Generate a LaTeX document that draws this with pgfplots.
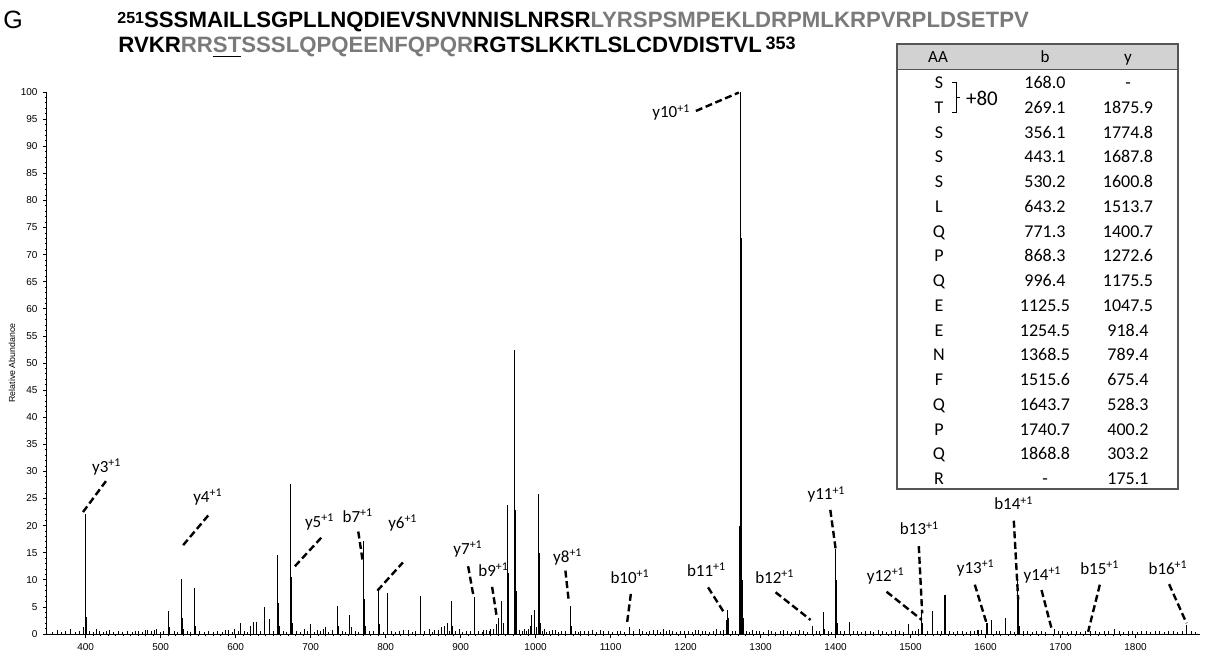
\documentclass[border=0pt]{standalone}
\usepackage{pgfplots}
\pgfplotsset{compat=1.18}
\usepackage{fontspec}
\setmainfont{Liberation Sans}
\newfontfamily\calfont{Carlito}
\definecolor{seqgray}{HTML}{7A7A7A}
\definecolor{hdrgray}{HTML}{D2D2D2}
\definecolor{boxgray}{HTML}{555555}
\tikzset{
  lbl/.style={font=\calfont\fontsize{8.5}{10}\selectfont, inner sep=0pt},
  dl/.style={line width=1.2pt, dash pattern=on 3.5pt off 1.8pt},
}
\begin{document}
\begin{tikzpicture}
\path[use as bounding box] (0pt,0pt) rectangle (603pt,327.5pt);
\begin{axis}[
  at={(23.5pt,10.5pt)}, anchor=south west,
  scale only axis, width=576.5pt, height=271pt,
  xmin=348.4, xmax=1886, ymin=0, ymax=100,
  axis lines=left, axis line style={-, line width=0.5pt},
  xtick={400,500,...,1800}, minor x tick num=9,
  ytick={0,5,...,100}, minor y tick num=4,
  tick align=outside,
  major tick length=2.2pt, minor tick length=1.2pt,
  every tick/.style={black, line width=0.4pt},
  /pgf/number format/assume math mode=true,
  /pgf/number format/1000 sep={},
  tick label style={font=\fontsize{5}{6}\selectfont},
  xticklabel style={yshift=1pt},
  yticklabel style={xshift=1pt},
  ylabel={Relative Abundance},
  ylabel style={font=\fontsize{4.4}{5}\selectfont, yshift=-4pt},
  clip=false,
]
% baseline noise
\addplot[ycomb, black, line width=0.4pt, no marks] coordinates {
(355,0.4)(362,0.7)(368,0.3)(373,0.5)(380,0.9)(386,0.4)(391,0.6)(405,0.5)(410,0.3)(418,0.6)
(423,0.4)(432,0.7)(437,0.3)(443,0.5)(449,0.4)(456,0.6)(462,0.3)(466,0.5)(476,0.4)(480,0.7)
(488,0.5)(500,0.4)(504,0.6)(518,0.5)(522,0.3)(536,0.6)(540,0.4)(552,0.5)(558,0.3)(563,0.6)
(570,0.4)(576,0.5)(582,0.3)(586,0.7)(595,0.4)(603,0.5)(612,0.6)(616,0.3)(633,0.5)(650,0.6)
(664,0.5)(668,0.4)(681,0.6)(686,0.4)(696,0.5)(705,0.4)(713,0.6)(724,0.4)(729,0.7)(742,0.5)
(746,0.4)(760,0.6)(764,0.4)(779,0.5)(784,0.6)(797,0.4)(808,0.6)(813,0.4)(818,0.5)(824,0.7)
(836,0.4)(840,0.6)(852,0.5)(862,0.4)(870,0.7)(885,0.6)(893,0.5)(903,0.4)(908,0.6)(913,0.5)
(924,0.6)(929,0.4)(931,0.7)(938,0.5)(979,0.7)(982,0.5)(988,0.6)(1009,0.6)(1015,0.4)(1019,0.5)
(1023,0.7)(1030,0.4)(1035,0.5)(1040,0.6)(1053,0.5)(1057,0.4)(1065,0.6)(1070,0.5)(1081,0.4)(1086,0.7)
(1091,0.5)(1097,0.6)(1103,0.4)(1113,0.6)(1118,0.4)(1131,0.5)(1143,0.6)(1148,0.4)(1152,0.5)(1162,0.7)
(1166,0.4)(1174,0.5)(1183,0.6)(1188,0.4)(1193,0.5)(1204,0.6)(1209,0.4)(1213,0.7)(1222,0.5)(1227,0.6)
(1232,0.4)(1237,0.5)(1246,0.6)(1250,0.8)(1262,0.6)(1267,0.5)(1281,0.6)(1285,0.4)(1294,0.5)(1299,0.6)
(1304,0.4)(1310,0.7)(1315,0.5)(1320,0.4)(1326,0.6)(1336,0.5)(1341,0.4)(1346,0.6)(1357,0.5)(1362,0.4)
(1374,0.6)(1379,0.5)(1390,0.6)(1395,0.4)(1407,0.5)(1412,0.6)(1424,0.5)(1429,0.6)(1435,0.4)(1440,0.5)
(1446,0.6)(1451,0.4)(1457,0.7)(1462,0.5)(1468,0.4)(1474,0.6)(1485,0.5)(1491,0.4)(1503,0.6)(1507,0.5)
(1522,0.6)(1536,0.5)(1541,0.6)(1552,0.5)(1557,0.4)(1563,0.6)(1569,0.5)(1574,0.4)(1580,0.6)(1585,0.5)
(1594,0.7)(1614,0.5)(1619,0.6)(1633,0.5)(1638,0.4)(1650,0.5)(1656,0.6)(1662,0.4)(1668,0.5)(1674,0.6)
(1680,0.4)(1697,0.5)(1703,0.6)(1709,0.4)(1715,0.5)(1721,0.6)(1727,0.4)(1733,0.5)(1746,0.6)(1752,0.4)
(1758,0.5)(1764,0.6)(1778,0.5)(1784,0.4)(1790,0.6)(1796,0.5)(1802,0.4)(1808,0.6)(1814,0.5)(1820,0.4)
(1826,0.6)(1832,0.5)(1838,0.4)(1844,0.6)(1850,0.5)(1856,0.4)(1862,0.5)(1875,0.6)(1880,0.4)
};
% peaks
\addplot[ycomb, black, line width=0.55pt, no marks] coordinates {
(397,1.2)(400,22.2)(401,3.2)(414,0.9)(428,0.6)(471,0.6)(483,0.7)(492,0.7)(495,0.9)
(510,4.2)(511,2.5)(512,1.2)(528,10.2)(529,3.0)(530,1.0)(545,8.5)(546,1.5)
(591,0.7)(598,0.9)(607,2.0)(620,1.5)(624,2.2)(628,2.3)(638,5.0)(639,2.0)(645,2.8)
(656,14.5)(657,5.7)(658,1.5)(673,27.6)(674,10.5)(675,6.5)(676,2.0)(692,1.0)(700,1.8)
(709,0.7)(717,0.9)(720,1.2)(736,5.2)(737,1.5)(752,3.5)(755,1.2)(771,17.2)(772,6.5)(773,1.5)
(790,8.0)(791,5.0)(792,1.8)(802,7.5)(803,1.5)(830,0.7)(846,7.0)(847,1.8)(858,0.9)(865,0.7)
(875,1.2)(878,1.5)(882,2.0)(888,6.0)(889,1.5)(898,0.9)(918,6.8)(919,1.5)(935,0.7)(940,0.9)
(944,1.0)(948,1.8)(951,3.0)(955,6.0)(957,2.0)(963,23.8)(964,11.3)(972,52.4)(973,22.9)(974,8.0)
(985,0.9)(990,1.0)(993,1.5)(995,3.5)(998,4.5)(1001,1.2)(1004,25.8)(1005,15.0)(1006,2.0)
(1012,0.9)(1026,0.7)(1047,5.2)(1048,1.5)(1060,0.6)(1076,0.7)(1109,0.6)(1125,1.2)(1138,0.9)
(1157,0.7)(1170,0.9)(1178,0.8)(1199,0.6)(1217,0.7)(1241,0.9)(1254,2.5)(1256,4.5)(1257,3.0)
(1272,20.0)(1273,100)(1274,73.0)(1275,32.0)(1276,10.0)(1277,3.0)(1289,0.7)(1331,0.7)(1352,0.8)
(1369,1.5)(1384,4.0)(1385,1.0)(1400,15.6)(1401,10.0)(1402,2.0)(1418,2.3)(1419,0.8)(1480,0.8)
(1497,1.8)(1510,1.0)(1515,4.5)(1516,2.0)(1529,4.3)(1546,7.2)(1590,0.7)(1602,2.1)(1608,2.6)
(1627,2.9)(1643,10.6)(1644,6.9)(1645,1.5)(1692,1.0)(1740,0.6)(1772,0.9)(1868,1.6)
};
% annotations
\draw[dl] (axis cs:396.4,22.5) -- (axis cs:427,28.2);
\node[lbl] at (axis cs:428,30.8) {y3\textsuperscript{+1}};
\draw[dl] (axis cs:530,16.4) -- (axis cs:566,22.3);
\node[lbl] at (axis cs:563,25.3) {y4\textsuperscript{+1}};
\draw[dl] (axis cs:679,12.5) -- (axis cs:715,17.9);
\node[lbl] at (axis cs:712,20.7) {y5\textsuperscript{+1}};
\draw[dl] (axis cs:763.5,18.9) -- (axis cs:769.3,13.5);
\node[lbl] at (axis cs:763,21.8) {b7\textsuperscript{+1}};
\draw[dl] (axis cs:789,8) -- (axis cs:823,13.2);
\node[lbl] at (axis cs:823,20.5) {y6\textsuperscript{+1}};
\draw[dl] (axis cs:910,12.5) -- (axis cs:917,7.1);
\node[lbl] at (axis cs:910,15.7) {y7\textsuperscript{+1}};
\draw[dl] (axis cs:942,8.7) -- (axis cs:948,3.3);
\node[lbl] at (axis cs:944,11.9) {b9\textsuperscript{+1}};
\draw[dl] (axis cs:1039.7,11.7) -- (axis cs:1044,6.3);
\node[lbl] at (axis cs:1043,14.2) {y8\textsuperscript{+1}};
\draw[dl] (axis cs:1127,7.4) -- (axis cs:1122,2.1);
\node[lbl] at (axis cs:1126,10.6) {b10\textsuperscript{+1}};
\draw[dl] (axis cs:1230,8.6) -- (axis cs:1252,3.8);
\node[lbl] at (axis cs:1228,11.8) {b11\textsuperscript{+1}};
\draw[dl] (axis cs:1213.7,96.5) -- (axis cs:1271,99.9);
\node[lbl] at (axis cs:1181,96.2) {y10\textsuperscript{+1}};
\draw[dl] (axis cs:1320,7.7) -- (axis cs:1366.7,2.6);
\node[lbl] at (axis cs:1319,10.6) {b12\textsuperscript{+1}};
\draw[dl] (axis cs:1393,22.9) -- (axis cs:1400,15.8);
\node[lbl] at (axis cs:1388,25.7) {y11\textsuperscript{+1}};
\draw[dl] (axis cs:1468,7.8) -- (axis cs:1515,2.6);
\node[lbl] at (axis cs:1467,10.7) {y12\textsuperscript{+1}};
\draw[dl] (axis cs:1511,16.2) -- (axis cs:1515.5,3.8);
\node[lbl] at (axis cs:1512,19.5) {b13\textsuperscript{+1}};
\draw[dl] (axis cs:1637.7,20.9) -- (axis cs:1643.5,6.4);
\node[lbl] at (axis cs:1637.7,24.1) {b14\textsuperscript{+1}};
\draw[dl] (axis cs:1585.7,9.1) -- (axis cs:1602,1.7);
\node[lbl] at (axis cs:1587,12.2) {y13\textsuperscript{+1}};
\draw[dl] (axis cs:1674.7,8.1) -- (axis cs:1688.8,0.6);
\node[lbl] at (axis cs:1676,10.9) {y14\textsuperscript{+1}};
\draw[dl] (axis cs:1752.4,9.1) -- (axis cs:1736.8,0.4);
\node[lbl] at (axis cs:1752.4,12.2) {b15\textsuperscript{+1}};
\draw[dl] (axis cs:1844.8,9.2) -- (axis cs:1868,2.0);
\node[lbl] at (axis cs:1843.5,12.2) {b16\textsuperscript{+1}};
\end{axis}
\begin{scope}[x=0.5pt, y=-0.5pt, shift={(0pt,327.5pt)}]
% panel letter and sequence
\node[anchor=base west, inner sep=0, font=\fontsize{12.5}{14}\selectfont] at (3,29) {G};
\node[anchor=base west, inner sep=0, font=\fontsize{11.1}{13}\selectfont\bfseries] at (117,28)
  {\raisebox{0.35ex}{\fontsize{8}{9}\selectfont 251}SSSMAILLSGPLLNQDIEVSNVNNISLNRSR\textcolor{seqgray}{LYRSPSMPEKLDRPMLKRPVRPLDSETPV}};
\node[anchor=base west, inner sep=0, font=\fontsize{11.1}{13}\selectfont\bfseries] at (118,53)
  {RVKR\textcolor{seqgray}{RR}\underline{\textcolor{seqgray}{ST}}\textcolor{seqgray}{SSSLQPQEENFQPQR}RGTSLKKTLSLCDVDISTVL\,\raisebox{0.3ex}{\fontsize{9}{10}\selectfont 353}};
% table
\fill[hdrgray] (897,44) rectangle (1178,69);
\draw[boxgray, line width=0.6pt] (897,44) rectangle (1178,489);
\draw[boxgray, line width=0.4pt] (897,69) -- (1178,69);
\begin{scope}[every node/.style={font=\calfont\fontsize{8.5}{9}\selectfont, inner sep=0pt, anchor=base}]
\node at (938,63) {AA};
\node at (1045,63) {b};
\node at (1128,63) {y};
\end{scope}
\begin{scope}[every node/.style={font=\calfont\fontsize{9}{10}\selectfont, inner sep=0pt, anchor=base}]
\foreach \a/\b/\c [count=\i from 0] in {S/168.0/-,T/269.1/1875.9,S/356.1/1774.8,S/443.1/1687.8,S/530.2/1600.8,L/643.2/1513.7,Q/771.3/1400.7,P/868.3/1272.6,Q/996.4/1175.5,E/1125.5/1047.5,E/1254.5/918.4,N/1368.5/789.4,F/1515.6/675.4,Q/1643.7/528.3,P/1740.7/400.2,Q/1868.8/303.2,R/-/175.1}{
  \node at (939,88.8+24.73*\i) {\a};
  \node at (1045,88.8+24.73*\i) {\b};
  \node at (1128,88.8+24.73*\i) {\c};
}
\end{scope}
\draw[line width=0.45pt] (952,82) -- (956,82) -- (956,112) -- (952,112) (956,97) -- (960,97);
\node[font=\calfont\fontsize{10.5}{11}\selectfont, inner sep=0pt] at (982,98) {+80};
\end{scope}
\end{tikzpicture}
\end{document}
